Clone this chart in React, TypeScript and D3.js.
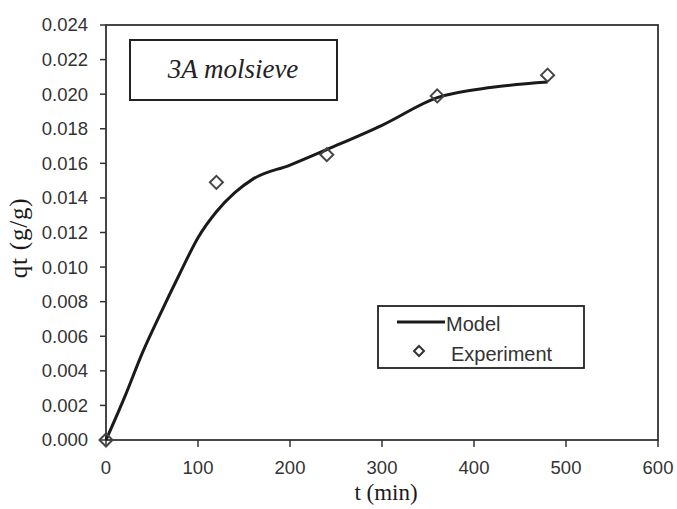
import React from "react";
import * as d3 from "d3";

const modelT = [0, 20, 40, 60, 80, 100, 120, 140, 160, 200, 240, 300, 360, 420, 480];
const modelQ = [0, 0.00245, 0.0051, 0.0074, 0.0096, 0.0117, 0.0132, 0.0143, 0.0151, 0.0159, 0.0168, 0.0182, 0.0198, 0.0204, 0.0207];
const expT = [0, 120, 240, 360, 480];
const expQ = [0, 0.0149, 0.0165, 0.0199, 0.0211];
const xTicks = [0, 100, 200, 300, 400, 500, 600];
const yTicks = [0, 0.002, 0.004, 0.006, 0.008, 0.01, 0.012, 0.014, 0.016, 0.018, 0.02, 0.022, 0.024];

const W = 677, H = 509;
const L = 106, R = 658, T = 25, B = 440;

export default function App() {
  const x = d3.scaleLinear().domain([0, 600]).range([L, R]);
  const y = d3.scaleLinear().domain([0, 0.024]).range([B, T]);
  const line = d3.line<number>().x((_, i) => x(modelT[i])).y((d) => y(d)).curve(d3.curveMonotoneX);
  const diamond = (cx: number, cy: number, r: number) =>
    `M${cx},${cy - r}L${cx + r},${cy}L${cx},${cy + r}L${cx - r},${cy}Z`;
  const axisColor = "#333";
  const sans = "'Liberation Sans', Arial, sans-serif";
  const serif = "'Liberation Serif', 'Times New Roman', serif";
  return (
    <svg width={W} height={H} style={{ position: "absolute", left: 0, top: 0, background: "#fff" }}>
      <rect x={0} y={0} width={W} height={H} fill="#fff" />
      {/* frame */}
      <rect x={L} y={T} width={R - L} height={B - T} fill="none" stroke={axisColor} strokeWidth={1.8} />
      {/* y ticks */}
      {yTicks.map((v) => (
        <g key={"y" + v}>
          <line x1={L - 6} x2={L} y1={y(v)} y2={y(v)} stroke={axisColor} strokeWidth={1.5} />
          <text x={88} y={y(v)} dy="0.35em" textAnchor="end" fontFamily={sans} fontSize={18.5} fill="#333">
            {v.toFixed(3)}
          </text>
        </g>
      ))}
      {/* x ticks */}
      {xTicks.map((v) => (
        <g key={"x" + v}>
          <line x1={x(v)} x2={x(v)} y1={B} y2={B + 7} stroke={axisColor} strokeWidth={1.5} />
          <text x={x(v)} y={474} textAnchor="middle" fontFamily={sans} fontSize={18.5} fill="#333">
            {v}
          </text>
        </g>
      ))}
      {/* axis titles */}
      <text x={386} y={500} textAnchor="middle" fontFamily={serif} fontSize={23} fill="#1a1a1a">t (min)</text>
      <text transform="translate(27,238) rotate(-90)" textAnchor="middle" fontFamily={serif} fontSize={25} letterSpacing={0.8} fill="#1a1a1a">qt (g/g)</text>
      {/* model line */}
      <path d={line(modelQ) || ""} fill="none" stroke="#1a1a1a" strokeWidth={3} />
      {/* experiment markers */}
      {expT.map((t, i) => (
        <path key={"e" + i} d={diamond(x(t), y(expQ[i]), 6.5)} fill="none" stroke="#444" strokeWidth={2} />
      ))}
      {/* title box */}
      <rect x={130} y={40} width={207} height={60} fill="#fff" stroke="#222" strokeWidth={2} />
      <text x={233} y={78} textAnchor="middle" fontFamily={serif} fontStyle="italic" fontSize={27} fill="#222">3A molsieve</text>
      {/* legend */}
      <rect x={378} y={306} width={206} height={62} fill="#fff" stroke="#222" strokeWidth={1.8} />
      <line x1={397} x2={445} y1={322} y2={322} stroke="#1a1a1a" strokeWidth={3} />
      <text x={446} y={331} fontFamily={sans} fontSize={20} fill="#333">Model</text>
      <path d={diamond(419, 351, 5)} fill="none" stroke="#333" strokeWidth={2} />
      <text x={451} y={361} fontFamily={sans} fontSize={20} fill="#333">Experiment</text>
    </svg>
  );
}
